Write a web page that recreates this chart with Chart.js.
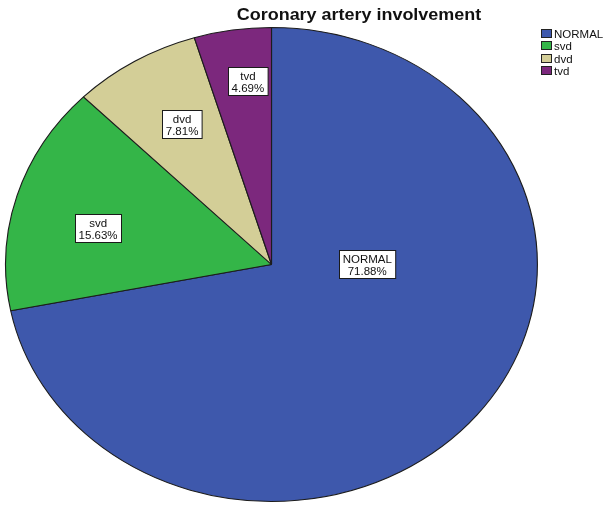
<!DOCTYPE html>
<html>
<head>
<meta charset="utf-8">
<script src="https://cdn.jsdelivr.net/npm/chart.js@4/dist/chart.umd.min.js"></script>
<style>
  html, body { margin: 0; padding: 0; background: #ffffff; }
  #wrap { position: relative; width: 606px; height: 505px; }
</style>
</head>
<body>
<div id="wrap"><canvas id="c" width="606" height="505"></canvas></div>
<script>
// ---- data ----
const chartTitle = 'Coronary artery involvement';
const categories = ['NORMAL', 'svd', 'dvd', 'tvd'];
const percentages = [71.88, 15.63, 7.81, 4.69];
const sliceColors = ['#3E58AC', '#34B548', '#D3CE97', '#7C287D'];

// ---- styling / placement settings ----
const X_STRETCH = 1.122;               // the whole figure is horizontally stretched
const labelRadiusFrac = [0.36, 0.67, 0.68, 0.78];
const labelAngleShiftDeg = [-39.4, -3.6, 1.3, 1.9];
const FONT = '"Liberation Sans", Arial, Helvetica, sans-serif';

function stretchedText(ctx, text, x, y) {
  ctx.save();
  ctx.translate(x, y);
  ctx.scale(X_STRETCH, 1);
  ctx.fillText(text, 0, 0);
  ctx.restore();
}

const ellipsePlugin = {
  id: 'ellipse',
  beforeDatasetsDraw(chart) {
    const arc = chart.getDatasetMeta(0).data[0];
    const ctx = chart.ctx;
    ctx.save();
    ctx.translate(arc.x, arc.y);
    ctx.scale(X_STRETCH, 1);
    ctx.translate(-arc.x, -arc.y);
  },
  afterDatasetsDraw(chart) {
    chart.ctx.restore();
  }
};

const decorPlugin = {
  id: 'decor',
  afterDraw(chart) {
    const ctx = chart.ctx;
    const meta = chart.getDatasetMeta(0);
    // slice labels
    ctx.save();
    ctx.font = '11.5px ' + FONT;
    meta.data.forEach((arc, i) => {
      const p = arc.getProps(['x', 'y', 'startAngle', 'endAngle', 'outerRadius'], true);
      const a = (p.startAngle + p.endAngle) / 2 + labelAngleShiftDeg[i] * Math.PI / 180;
      const r = p.outerRadius * labelRadiusFrac[i];
      const lx = p.x + Math.cos(a) * r * X_STRETCH;
      const ly = p.y + Math.sin(a) * r;
      const l1 = categories[i];
      const l2 = percentages[i].toFixed(2) + '%';
      const w = Math.max(ctx.measureText(l1).width, ctx.measureText(l2).width) + 7;
      const h = 28;
      const bx = Math.round(lx - w / 2) + 0.5, by = Math.round(ly - h / 2) + 0.5;
      ctx.fillStyle = '#ffffff';
      ctx.fillRect(bx, by, w, h);
      ctx.strokeStyle = '#1a1a1a';
      ctx.lineWidth = 1;
      ctx.strokeRect(bx, by, w, h);
      ctx.fillStyle = '#111111';
      ctx.textAlign = 'center';
      ctx.textBaseline = 'alphabetic';
      ctx.fillText(l1, lx, by + 12);
      ctx.fillText(l2, lx, by + 24);
    });
    ctx.restore();

    // title
    ctx.save();
    ctx.font = 'bold 16px ' + FONT;
    ctx.fillStyle = '#111111';
    ctx.textAlign = 'center';
    ctx.textBaseline = 'alphabetic';
    stretchedText(ctx, chartTitle, 359, 20);
    ctx.restore();

    // legend
    ctx.save();
    ctx.font = '11.5px ' + FONT;
    ctx.textAlign = 'left';
    ctx.textBaseline = 'alphabetic';
    categories.forEach((c, i) => {
      const y = 29 + i * 12.3;
      ctx.fillStyle = sliceColors[i];
      ctx.fillRect(541.5, Math.round(y) + 0.5, 10, 8);
      ctx.strokeStyle = '#222222';
      ctx.lineWidth = 1;
      ctx.strokeRect(541.5, Math.round(y) + 0.5, 10, 8);
      ctx.fillStyle = '#111111';
      ctx.fillText(c, 554, Math.round(y) + 9);
    });
    ctx.restore();
  }
};

new Chart(document.getElementById('c'), {
  type: 'pie',
  data: {
    labels: categories,
    datasets: [{
      data: percentages,
      backgroundColor: sliceColors,
      borderColor: '#1c1c1c',
      borderWidth: 1
    }]
  },
  options: {
    responsive: false,
    animation: false,
    events: [],
    layout: { padding: { left: 34, right: 97, top: 27, bottom: 3 } },
    plugins: {
      legend: { display: false },
      title: { display: false },
      tooltip: { enabled: false }
    }
  },
  plugins: [ellipsePlugin, decorPlugin]
});
</script>
</body>
</html>
